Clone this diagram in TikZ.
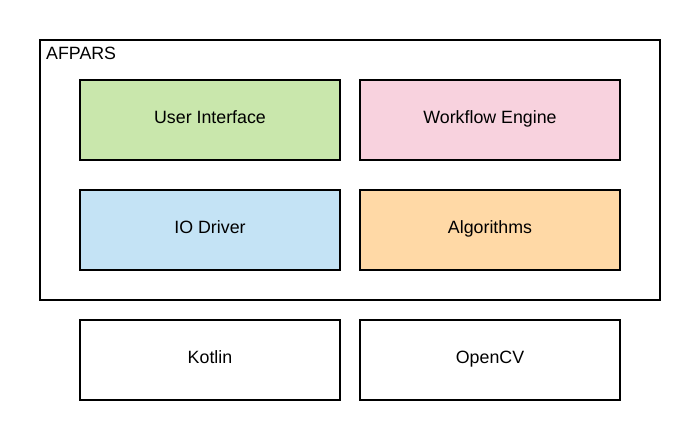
\documentclass[tikz,border=0pt]{standalone}
\usepackage{fontspec}
\setmainfont{Liberation Sans}
\usepackage{xcolor}
\usepackage{tikz}
\usetikzlibrary{positioning}

\definecolor{uigreen}{HTML}{C9E7AC}
\definecolor{wfpink}{HTML}{F8D2DE}
\definecolor{ioblue}{HTML}{C4E3F5}
\definecolor{algorange}{HTML}{FFD9A6}

\begin{document}
\begin{tikzpicture}[x=1pt, y=-1pt,
    module/.style={draw, line width=2pt, minimum width=260pt, minimum height=80pt,
        inner sep=0pt, text height=12.7pt, text depth=6pt,
        font=\fontsize{17.8}{21}\selectfont}]
    \useasboundingbox (0,0) rectangle (700,440);

    % Outer frame
    \node[draw, line width=2pt, minimum width=620pt, minimum height=260pt, inner sep=0pt]
        (afpars) at (350,170) {};
    \node[anchor=north west, inner sep=0pt, font=\fontsize{17.8}{21}\selectfont]
        (afparslabel) at (46,47.3) {AFPARS};

    % Modules
    \node[module, fill=uigreen] (ui) at (210,120) {User Interface};
    \node[module, fill=wfpink] (wf) at (490,120) {Workflow Engine};
    \node[module, fill=ioblue] (io) at (210,230) {IO Driver};
    \node[module, fill=algorange] (alg) at (490,230) {Algorithms};

    % Libraries
    \node[module] (kotlin) at (210,360) {Kotlin};
    \node[module] (opencv) at (490,360) {OpenCV};
\end{tikzpicture}
\end{document}
